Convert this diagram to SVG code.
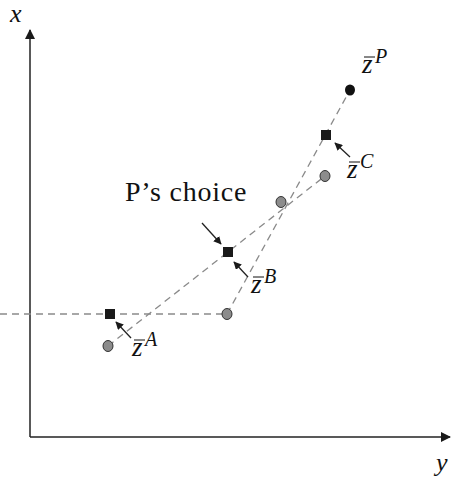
<svg xmlns="http://www.w3.org/2000/svg" width="451" height="478" viewBox="0 0 451 478">
<style>
.dash{stroke:#8a8a8a;stroke-width:1.3;stroke-dasharray:7,5;fill:none}
.axis{stroke:#222;stroke-width:1.5;fill:none}
.arr{stroke:#222;stroke-width:1.3;fill:none}
.pt{fill:#8c8c8c;stroke:#333;stroke-width:1}
.sq{fill:#1a1a1a}
.bar{stroke:#111;stroke-width:1}
text{font-family:"Liberation Serif","DejaVu Serif",serif;fill:#111}
.m{font-style:italic}
</style>
<defs>
<marker id="ah" viewBox="0 0 10 10" refX="9" refY="5" markerWidth="8" markerHeight="8" markerUnits="userSpaceOnUse" orient="auto"><path d="M0,0 L10,5 L0,10 Z" fill="#1a1a1a"/></marker>
<marker id="axh" viewBox="0 0 10 10" refX="9" refY="5" markerWidth="10" markerHeight="10" markerUnits="userSpaceOnUse" orient="auto"><path d="M0,0 L10,5 L0,10 Z" fill="#1a1a1a"/></marker>
</defs>
<g id="axes">
<line class="axis" x1="30" y1="437" x2="30" y2="30" marker-end="url(#axh)"/>
<line class="axis" x1="30" y1="437" x2="450" y2="437" marker-end="url(#axh)"/>
<text class="m" x="10" y="22" font-size="26">x</text>
<text class="m" x="436" y="471" font-size="26">y</text>
</g>
<g id="connectors">
<line class="dash" x1="0" y1="314" x2="227" y2="314"/>
<line class="dash" x1="108" y1="346" x2="325" y2="176"/>
<line class="dash" x1="227" y1="314" x2="350" y2="90"/>
<line class="arr" x1="131" y1="338" x2="116" y2="322" marker-end="url(#ah)"/>
<line class="arr" x1="202" y1="223" x2="221" y2="244" marker-end="url(#ah)"/>
<line class="arr" x1="248" y1="277" x2="234" y2="262" marker-end="url(#ah)"/>
<line class="arr" x1="350" y1="157" x2="335" y2="143" marker-end="url(#ah)"/>
</g>
<g id="pA1"><ellipse class="pt" cx="108" cy="346" rx="5" ry="5.5"/></g>
<g id="pA2"><ellipse class="pt" cx="227" cy="314" rx="5" ry="5.5"/></g>
<g id="pB"><ellipse class="pt" cx="281" cy="202" rx="5" ry="5.5"/></g>
<g id="pC"><ellipse class="pt" cx="325" cy="176" rx="5" ry="5.5"/></g>
<g id="pP"><ellipse cx="350" cy="90" rx="5" ry="5.5" fill="#111"/></g>
<g id="sqA"><rect class="sq" x="105" y="309" width="10" height="10"/></g>
<g id="sqB"><rect class="sq" x="223" y="247" width="10" height="10"/></g>
<g id="sqC"><rect class="sq" x="321" y="130" width="10" height="10"/></g>
<g id="labelA"><text class="m" x="132" y="356" font-size="27">z</text><text class="m" x="145" y="346" font-size="20">A</text><line class="bar" x1="134" y1="340" x2="145" y2="340"/></g>
<g id="labelB"><text class="m" x="251" y="293" font-size="27">z</text><text class="m" x="264" y="283" font-size="20">B</text><line class="bar" x1="253" y1="277" x2="264" y2="277"/></g>
<g id="labelC"><text class="m" x="347" y="178" font-size="27">z</text><text class="m" x="360" y="168" font-size="20">C</text><line class="bar" x1="349" y1="162" x2="360" y2="162"/></g>
<g id="labelP"><text class="m" x="362" y="73" font-size="27">z</text><text class="m" x="375" y="63" font-size="20">P</text><line class="bar" x1="364" y1="57" x2="375" y2="57"/></g>
<g id="choice"><text x="125" y="201" font-size="28" letter-spacing="0.8">P’s choice</text></g>
</svg>
